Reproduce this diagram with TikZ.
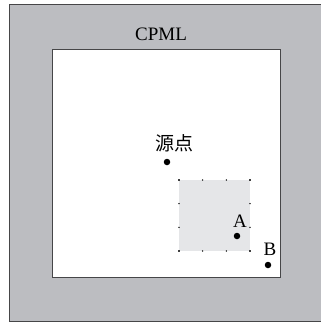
\documentclass[tikz,border=0pt]{standalone}
\usepackage{fontspec}
\setmainfont{Liberation Serif}
\newfontfamily\cjk{Noto Sans CJK SC}
\definecolor{pmlgray}{RGB}{188,189,193}
\definecolor{zonegray}{RGB}{229,230,232}
\definecolor{edgegray}{RGB}{70,70,72}
\begin{document}
\begin{tikzpicture}[x=1pt,y=-1pt,
  lbl/.style={inner sep=0pt,font=\fontsize{19}{19}\selectfont},
  bigdot/.style={circle,fill=black,inner sep=0pt,minimum size=6.5pt},
  tinydot/.style={circle,fill=black,inner sep=0pt,minimum size=1.6pt}]
\useasboundingbox (0,0) rectangle (321,322);
\fill[white] (0,0) rectangle (321,322);
\draw[fill=pmlgray,draw=edgegray,line width=0.8pt] (9,4) rectangle (323,321);
\draw[fill=white,draw=edgegray,line width=1pt] (52,49) rectangle (280,277);
\node[lbl] (cpml) at (161,34) {CPML};
\fill[zonegray] (179,180) rectangle (250,251);
\foreach \i in {0,1,2,3}{
  \node[tinydot] (t\i) at ({179+\i*71/3},180) {};
  \node[tinydot] (b\i) at ({179+\i*71/3},251) {};
  \node[tinydot] (l\i) at (179,{180+\i*71/3}) {};
  \node[tinydot] (r\i) at (250,{180+\i*71/3}) {};
}
\node[lbl,font=\cjk\fontsize{19}{19}\selectfont] (srclbl) at (174,143) {源点};
\node[bigdot] (src) at (167,162) {};
\node[lbl] (albl) at (240,221) {A};
\node[bigdot] (a) at (237,236) {};
\node[lbl] (blbl) at (270,249) {B};
\node[bigdot] (b) at (268,265) {};
\end{tikzpicture}
\end{document}
